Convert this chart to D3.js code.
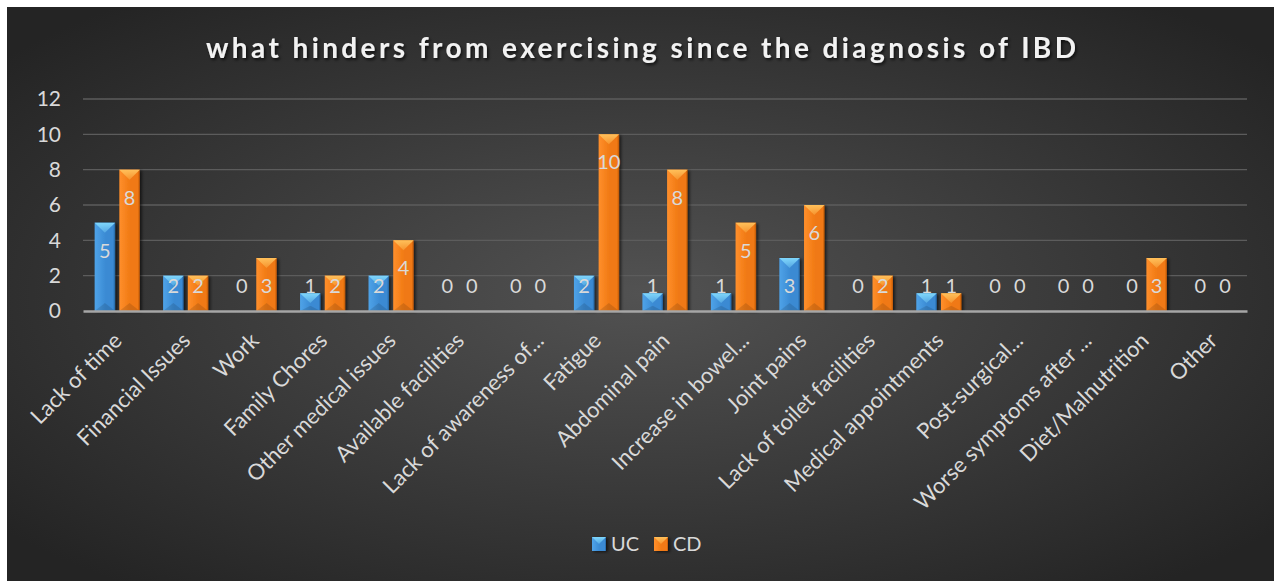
<!DOCTYPE html>
<html>
<head>
<meta charset="utf-8">
<script src="https://cdn.jsdelivr.net/npm/d3@7"></script>
<style>
  html, body { margin: 0; padding: 0; background: #fff; }
  svg { display: block; }
</style>
</head>
<body>
<div id="chart"></div>
<script>
var categories = ['Lack of time', 'Financial Issues', 'Work', 'Family Chores',
  'Other medical issues', 'Available facilities', 'Lack of awareness of...',
  'Fatigue', 'Abdominal pain', 'Increase in bowel...', 'Joint pains',
  'Lack of toilet facilities', 'Medical appointments', 'Post-surgical...',
  'Worse symptoms after ...', 'Diet/Malnutrition', 'Other'];
var ucValues = [5, 2, 0, 1, 2, 0, 0, 2, 1, 1, 3, 0, 1, 0, 0, 0, 0];
var cdValues = [8, 2, 3, 2, 4, 0, 0, 10, 8, 5, 6, 2, 1, 0, 0, 3, 0];
var seriesNames = ['UC', 'CD'];
var yTicks = [0, 2, 4, 6, 8, 10, 12];

var W = 1274, H = 581;
var margin = {top: 99, right: 27, bottom: 270, left: 83};
var width = W - margin.left - margin.right,
    height = H - margin.top - margin.bottom;

var font = 'Lato, Calibri, "Open Sans", sans-serif';
var textCol = '#d9d9d9';

var svg = d3.select('#chart').append('svg')
  .attr('width', W)
  .attr('height', H);

var defs = svg.append('defs');

// background gradient
var bg = defs.append('radialGradient').attr('id', 'bg')
  .attr('cx', '50%').attr('cy', '50%').attr('r', '65%');
bg.append('stop').attr('offset', '0%').attr('stop-color', '#525252');
bg.append('stop').attr('offset', '100%').attr('stop-color', '#242424');

// bar gradients
var palette = {
  UC: {light: '#4fa3e8', mid: '#3a8ad3', dark: '#25639f', top: '#7fd6fb'},
  CD: {light: '#ff8f2c', mid: '#f07912', dark: '#b9560a', top: '#ffc05a'}
};
seriesNames.forEach(function(s) {
  var g = defs.append('linearGradient').attr('id', 'grad' + s)
    .attr('x1', '0%').attr('x2', '100%').attr('y1', '0%').attr('y2', '0%');
  g.append('stop').attr('offset', '0%').attr('stop-color', palette[s].light);
  g.append('stop').attr('offset', '55%').attr('stop-color', palette[s].mid);
  g.append('stop').attr('offset', '90%').attr('stop-color', palette[s].mid);
  g.append('stop').attr('offset', '100%').attr('stop-color', palette[s].dark);
  var t = defs.append('linearGradient').attr('id', 'top' + s)
    .attr('x1', '0%').attr('x2', '0%').attr('y1', '0%').attr('y2', '100%');
  t.append('stop').attr('offset', '0%').attr('stop-color', palette[s].top);
  t.append('stop').attr('offset', '100%').attr('stop-color', palette[s].top).attr('stop-opacity', 0.35);
});

var shadow = defs.append('filter').attr('id', 'shadow')
  .attr('x', '-30%').attr('y', '-10%').attr('width', '160%').attr('height', '130%');
shadow.append('feDropShadow').attr('dx', 2).attr('dy', 1).attr('stdDeviation', 1.5)
  .attr('flood-color', '#000').attr('flood-opacity', 0.6);

var tshadow = defs.append('filter').attr('id', 'tshadow')
  .attr('x', '-5%').attr('y', '-30%').attr('width', '110%').attr('height', '160%');
tshadow.append('feDropShadow').attr('dx', 1.5).attr('dy', 2).attr('stdDeviation', 1.5)
  .attr('flood-color', '#000').attr('flood-opacity', 0.7);

svg.append('rect')
  .attr('x', 7).attr('y', 7)
  .attr('width', W - 7).attr('height', H - 7)
  .attr('fill', 'url(#bg)');

// title
svg.append('text')
  .attr('x', 641).attr('y', 58)
  .attr('text-anchor', 'middle')
  .attr('textLength', 870)
  .attr('lengthAdjust', 'spacing')
  .style('font-family', font)
  .style('font-weight', 'bold')
  .style('font-size', '28px')
  .style('fill', '#f2f2f2')
  .attr('filter', 'url(#tshadow)')
  .text('what hinders from exercising since the diagnosis of IBD');

var g = svg.append('g')
  .attr('transform', 'translate(' + margin.left + ',' + margin.top + ')');

var x0 = d3.scaleBand()
  .domain(categories)
  .range([0, width])
  .paddingInner(0.34)
  .paddingOuter(0.17);

var x1 = d3.scaleBand()
  .domain(seriesNames)
  .range([0, x0.bandwidth()])
  .paddingInner(0.17);

var y = d3.scaleLinear()
  .domain([0, 12])
  .range([height, 0]);

// gridlines
g.append('g')
  .selectAll('line').data(yTicks.filter(function(d) { return d > 0; }))
  .enter().append('line')
  .attr('x1', 0).attr('x2', width)
  .attr('y1', function(d) { return y(d); })
  .attr('y2', function(d) { return y(d); })
  .attr('stroke', '#5c5c5c')
  .attr('stroke-width', 1.3);

// y axis
var yAxis = d3.axisLeft(y).tickValues(yTicks).tickSize(0).tickPadding(22);
var yG = g.append('g').call(yAxis);
yG.select('.domain').remove();
yG.selectAll('text')
  .style('font-family', font)
  .style('font-size', '21px')
  .style('fill', textCol);

// bars
var rows = categories.map(function(c, i) {
  return {cat: c, vals: [{s: 'UC', v: ucValues[i]}, {s: 'CD', v: cdValues[i]}]};
});

var groups = g.selectAll('.cat').data(rows).enter().append('g')
  .attr('class', 'cat')
  .attr('transform', function(d) { return 'translate(' + x0(d.cat) + ',0)'; });

var bars = groups.selectAll('.bar').data(function(d) { return d.vals; })
  .enter().append('g').attr('class', 'bar')
  .filter(function(d) { return d.v > 0; });

bars.append('rect')
  .attr('x', function(d) { return x1(d.s); })
  .attr('y', function(d) { return y(d.v); })
  .attr('width', x1.bandwidth())
  .attr('height', function(d) { return y(0) - y(d.v); })
  .attr('fill', function(d) { return 'url(#grad' + d.s + ')'; })
  .attr('filter', 'url(#shadow)');

// bevel top
bars.append('path')
  .attr('d', function(d) {
    var bx = x1(d.s), bw = x1.bandwidth(), by = y(d.v);
    var depth = Math.min(10, (y(0) - y(d.v)) * 0.55);
    return 'M' + bx + ',' + by + 'L' + (bx + bw) + ',' + by +
      'L' + (bx + bw / 2) + ',' + (by + depth) + 'Z';
  })
  .attr('fill', function(d) { return 'url(#top' + d.s + ')'; });

// faint base bevel
bars.append('path')
  .attr('d', function(d) {
    var bx = x1(d.s), bw = x1.bandwidth(), by = y(0);
    var depth = Math.min(8, (y(0) - y(d.v)) * 0.3);
    return 'M' + bx + ',' + by + 'L' + (bx + bw) + ',' + by +
      'L' + (bx + bw / 2) + ',' + (by - depth) + 'Z';
  })
  .attr('fill', '#000')
  .attr('opacity', 0.12);

// data labels
groups.selectAll('.lbl').data(function(d) { return d.vals; })
  .enter().append('text')
  .attr('class', 'lbl')
  .attr('x', function(d) { return x1(d.s) + x1.bandwidth() / 2; })
  .attr('y', function(d) { return Math.min(y(d.v) + 28, y(0) - 25); })
  .attr('dy', '0.35em')
  .attr('text-anchor', 'middle')
  .style('font-family', font)
  .style('font-size', '20px')
  .style('fill', textCol)
  .text(function(d) { return d.v; });

// x axis
var xAxis = d3.axisBottom(x0).tickSize(0).tickPadding(0);
var xG = g.append('g')
  .attr('transform', 'translate(0,' + height + ')')
  .call(xAxis);
xG.select('.domain')
  .attr('stroke', '#a6a6a6')
  .attr('stroke-width', 2.5);
xG.selectAll('text')
  .attr('text-anchor', 'end')
  .attr('dy', null)
  .attr('y', 0)
  .attr('transform', function(d) {
    // truncated labels sit a little further right, as in Excel
    var shift = /\.\.\.$/.test(d) ? 11 : 0;
    return 'translate(' + (6 + shift) + ',31) rotate(-45)';
  })
  .style('font-family', font)
  .style('font-size', '22px')
  .style('fill', textCol);

// legend
var legend = svg.append('g').attr('transform', 'translate(592,537)');
var li = legend.selectAll('g').data(seriesNames).enter().append('g')
  .attr('transform', function(d, i) { return 'translate(' + (i * 62) + ',0)'; });
li.append('rect')
  .attr('width', 14).attr('height', 14)
  .attr('fill', function(d) { return 'url(#grad' + d + ')'; })
  .attr('filter', 'url(#shadow)');
li.append('path')
  .attr('d', 'M0,0L14,0L7,7Z')
  .attr('fill', function(d) { return 'url(#top' + d + ')'; });
li.append('text')
  .attr('x', 19).attr('y', 7).attr('dy', '0.35em')
  .style('font-family', font)
  .style('font-size', '20px')
  .style('fill', textCol)
  .text(function(d) { return d; });
</script>
</body>
</html>
